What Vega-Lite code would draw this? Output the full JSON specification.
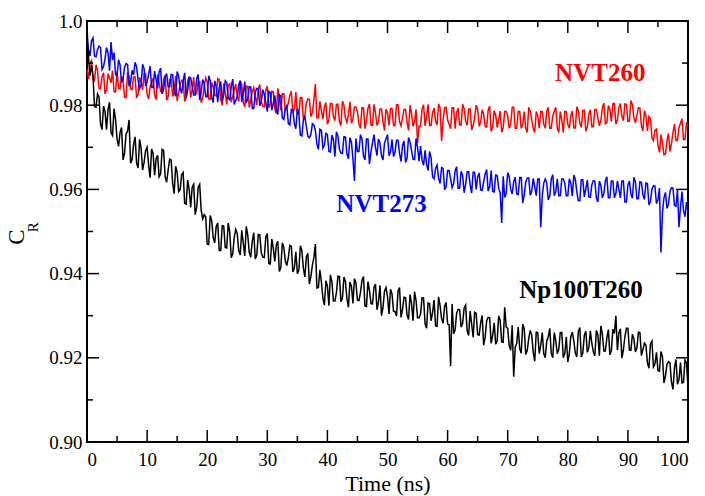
{
"$schema": "https://vega.github.io/schema/vega-lite/v6.json",
"width": 601, "height": 421,
"autosize": {"type": "none"},
"padding": {"left": 87, "top": 21, "right": 17, "bottom": 54},
"background": "white",
"config": {"font": "Liberation Serif", "view": {"stroke": "black", "strokeWidth": 2}, "axis": {"grid": false, "domain": false, "ticks": false, "labelFont": "Liberation Serif", "labelFontSize": 19, "labelColor": "black", "titleFont": "Liberation Serif", "titleColor": "black"}},
"datasets": {
"xmaj": [{"v":0},{"v":10},{"v":20},{"v":30},{"v":40},{"v":50},{"v":60},{"v":70},{"v":80},{"v":90},{"v":100}],
"xmin": [{"v":5},{"v":15},{"v":25},{"v":35},{"v":45},{"v":55},{"v":65},{"v":75},{"v":85},{"v":95}],
"ymaj": [{"v":0.9},{"v":0.92},{"v":0.94},{"v":0.96},{"v":0.98},{"v":1.0}],
"ymin": [{"v":0.91},{"v":0.93},{"v":0.95},{"v":0.97},{"v":0.99}],
"main": [
{"t":0,"r":0.9885,"b":0.9955,"k":0.9985},{"t":0.5,"r":0.9899,"b":0.9917,"k":0.987},{"t":1,"r":0.9863,"b":0.996,"k":0.987},{"t":1.5,"r":0.9896,"b":0.9915,"k":0.9795},{"t":2,"r":0.984,"b":0.994,"k":0.982},
{"t":2.5,"r":0.9868,"b":0.9885,"k":0.9742},{"t":3,"r":0.9827,"b":0.991,"k":0.9785},{"t":3.5,"r":0.9875,"b":0.9925,"k":0.979},{"t":4,"r":0.9853,"b":0.995,"k":0.9735},{"t":4.5,"r":0.9832,"b":0.9925,"k":0.9792},
{"t":5,"r":0.988,"b":0.987,"k":0.972},{"t":5.5,"r":0.9839,"b":0.9896,"k":0.9735},{"t":6,"r":0.9859,"b":0.9862,"k":0.967},{"t":6.5,"r":0.9818,"b":0.9899,"k":0.9732},{"t":7,"r":0.9868,"b":0.9845,"k":0.9765},
{"t":7.5,"r":0.9837,"b":0.9883,"k":0.967},{"t":8,"r":0.9867,"b":0.9902,"k":0.9725},{"t":8.5,"r":0.9826,"b":0.986,"k":0.9651},{"t":9,"r":0.9856,"b":0.9848,"k":0.9698},{"t":9.5,"r":0.9875,"b":0.9887,"k":0.9664},
{"t":10,"r":0.9825,"b":0.9855,"k":0.97},{"t":10.5,"r":0.9844,"b":0.9893,"k":0.9628},{"t":11,"r":0.9864,"b":0.9842,"k":0.9685},{"t":11.5,"r":0.9813,"b":0.986,"k":0.9673},{"t":12,"r":0.9853,"b":0.9879,"k":0.963},
{"t":12.5,"r":0.9832,"b":0.9827,"k":0.9695},{"t":13,"r":0.9872,"b":0.9866,"k":0.963},{"t":13.5,"r":0.9821,"b":0.9844,"k":0.9645},{"t":14,"r":0.9861,"b":0.9873,"k":0.967},{"t":14.5,"r":0.983,"b":0.9831,"k":0.959},
{"t":15,"r":0.981,"b":0.988,"k":0.964},{"t":15.5,"r":0.9849,"b":0.9839,"k":0.96},{"t":16,"r":0.9859,"b":0.9858,"k":0.964},{"t":16.5,"r":0.9818,"b":0.9817,"k":0.9565},{"t":17,"r":0.9868,"b":0.9866,"k":0.96},
{"t":17.5,"r":0.9837,"b":0.9845,"k":0.9605},{"t":18,"r":0.9827,"b":0.9824,"k":0.954},{"t":18.5,"r":0.9856,"b":0.9873,"k":0.9605},{"t":19,"r":0.9806,"b":0.9832,"k":0.955},{"t":19.5,"r":0.9845,"b":0.9851,"k":0.954},
{"t":20,"r":0.9855,"b":0.982,"k":0.947},{"t":20.5,"r":0.9814,"b":0.9858,"k":0.9538},{"t":21,"r":0.9843,"b":0.9806,"k":0.9485},{"t":21.5,"r":0.9822,"b":0.9844,"k":0.9512},{"t":22,"r":0.9861,"b":0.9842,"k":0.9455},
{"t":22.5,"r":0.98,"b":0.981,"k":0.9514},{"t":23,"r":0.9829,"b":0.9858,"k":0.9462},{"t":23.5,"r":0.9848,"b":0.9816,"k":0.952},{"t":24,"r":0.9807,"b":0.9844,"k":0.9438},{"t":24.5,"r":0.9836,"b":0.9802,"k":0.9486},
{"t":25,"r":0.982,"b":0.982,"k":0.9495},{"t":25.5,"r":0.9858,"b":0.9858,"k":0.9444},{"t":26,"r":0.9807,"b":0.9827,"k":0.9473},{"t":26.5,"r":0.9845,"b":0.9805,"k":0.9512},{"t":27,"r":0.9794,"b":0.9844,"k":0.945},
{"t":27.5,"r":0.9832,"b":0.9792,"k":0.9478},{"t":28,"r":0.9821,"b":0.9831,"k":0.9435},{"t":28.5,"r":0.9839,"b":0.9839,"k":0.9493},{"t":29,"r":0.9808,"b":0.9808,"k":0.945},{"t":29.5,"r":0.9796,"b":0.9826,"k":0.9438},
{"t":30,"r":0.9845,"b":0.9785,"k":0.9495},{"t":30.5,"r":0.9803,"b":0.983,"k":0.9423},{"t":31,"r":0.9832,"b":0.9805,"k":0.946},{"t":31.5,"r":0.978,"b":0.979,"k":0.9468},{"t":32,"r":0.9819,"b":0.9825,"k":0.9405},
{"t":32.5,"r":0.9827,"b":0.9769,"k":0.9473},{"t":33,"r":0.9786,"b":0.9793,"k":0.943},{"t":33.5,"r":0.9804,"b":0.9756,"k":0.9438},{"t":34,"r":0.9833,"b":0.979,"k":0.9465},{"t":34.5,"r":0.9791,"b":0.9756,"k":0.9413},
{"t":35,"r":0.978,"b":0.9792,"k":0.94},{"t":35.5,"r":0.9818,"b":0.9729,"k":0.9466},{"t":36,"r":0.9767,"b":0.9765,"k":0.9413},{"t":36.5,"r":0.9805,"b":0.9749,"k":0.944},{"t":37,"r":0.9814,"b":0.9723,"k":0.9375},
{"t":37.5,"r":0.9782,"b":0.9756,"k":0.942},{"t":38,"r":0.985,"b":0.974,"k":0.947},{"t":38.5,"r":0.977,"b":0.9695,"k":0.9367},{"t":39,"r":0.9788,"b":0.974,"k":0.938},{"t":39.5,"r":0.9796,"b":0.9705,"k":0.9325},
{"t":40,"r":0.9755,"b":0.973,"k":0.937},{"t":40.5,"r":0.9804,"b":0.9689,"k":0.9397},{"t":41,"r":0.9773,"b":0.9718,"k":0.9335},{"t":41.5,"r":0.9802,"b":0.9737,"k":0.9354},{"t":42,"r":0.9761,"b":0.9696,"k":0.9393},
{"t":42.5,"r":0.981,"b":0.9685,"k":0.9342},{"t":43,"r":0.9769,"b":0.9724,"k":0.9381},{"t":43.5,"r":0.9778,"b":0.9673,"k":0.932},{"t":44,"r":0.9757,"b":0.9712,"k":0.937},{"t":44.5,"r":0.9796,"b":0.962,"k":0.9388},
{"t":45,"r":0.9785,"b":0.969,"k":0.9337},{"t":45.5,"r":0.9745,"b":0.973,"k":0.9355},{"t":46,"r":0.9794,"b":0.968,"k":0.9393},{"t":46.5,"r":0.9764,"b":0.972,"k":0.9322},{"t":47,"r":0.9803,"b":0.966,"k":0.936},
{"t":47.5,"r":0.9752,"b":0.971,"k":0.9328},{"t":48,"r":0.9782,"b":0.97,"k":0.9375},{"t":48.5,"r":0.9762,"b":0.972,"k":0.9333},{"t":49,"r":0.9791,"b":0.968,"k":0.93},{"t":49.5,"r":0.974,"b":0.971,"k":0.9358},
{"t":50,"r":0.9782,"b":0.973,"k":0.9345},{"t":50.5,"r":0.9792,"b":0.9689,"k":0.9363},{"t":51,"r":0.9752,"b":0.9678,"k":0.9311},{"t":51.5,"r":0.9801,"b":0.9717,"k":0.9299},{"t":52,"r":0.9761,"b":0.9686,"k":0.9367},
{"t":52.5,"r":0.977,"b":0.9705,"k":0.9315},{"t":53,"r":0.979,"b":0.9664,"k":0.9343},{"t":53.5,"r":0.974,"b":0.9723,"k":0.9291},{"t":54,"r":0.978,"b":0.9692,"k":0.9329},{"t":54.5,"r":0.976,"b":0.9671,"k":0.9357},
{"t":55,"r":0.971,"b":0.97,"k":0.9295},{"t":55.5,"r":0.975,"b":0.9703,"k":0.9304},{"t":56,"r":0.9801,"b":0.9657,"k":0.9342},{"t":56.5,"r":0.9771,"b":0.966,"k":0.927},{"t":57,"r":0.9752,"b":0.969,"k":0.9329},
{"t":57.5,"r":0.9782,"b":0.963,"k":0.9308},{"t":58,"r":0.9763,"b":0.965,"k":0.9276},{"t":58.5,"r":0.9803,"b":0.9626,"k":0.9345},{"t":59,"r":0.9715,"b":0.9652,"k":0.9293},{"t":59.5,"r":0.9794,"b":0.9599,"k":0.9322},
{"t":60,"r":0.9765,"b":0.9645,"k":0.928},{"t":60.5,"r":0.9744,"b":0.9625,"k":0.918},{"t":61,"r":0.9794,"b":0.9614,"k":0.9257},{"t":61.5,"r":0.9783,"b":0.9654,"k":0.9306},{"t":62,"r":0.9753,"b":0.9603,"k":0.9314},
{"t":62.5,"r":0.9802,"b":0.9633,"k":0.9282},{"t":63,"r":0.9762,"b":0.9612,"k":0.9325},{"t":63.5,"r":0.9791,"b":0.9642,"k":0.9253},{"t":64,"r":0.9741,"b":0.9591,"k":0.928},{"t":64.5,"r":0.977,"b":0.9641,"k":0.9308},
{"t":65,"r":0.979,"b":0.963,"k":0.9255},{"t":65.5,"r":0.976,"b":0.9599,"k":0.9283},{"t":66,"r":0.9779,"b":0.9618,"k":0.923},{"t":66.5,"r":0.9748,"b":0.9647,"k":0.9288},{"t":67,"r":0.9798,"b":0.9606,"k":0.9295},
{"t":67.5,"r":0.9748,"b":0.9595,"k":0.9254},{"t":68,"r":0.9777,"b":0.9634,"k":0.9232},{"t":68.5,"r":0.9766,"b":0.9603,"k":0.93},{"t":69,"r":0.9736,"b":0.952,"k":0.9238},{"t":69.5,"r":0.9785,"b":0.9581,"k":0.932},
{"t":70,"r":0.9775,"b":0.964,"k":0.927},{"t":70.5,"r":0.9755,"b":0.96,"k":0.9218},{"t":71,"r":0.9795,"b":0.9619,"k":0.9155},{"t":71.5,"r":0.9745,"b":0.9589,"k":0.9234},{"t":72,"r":0.9785,"b":0.9628,"k":0.9222},
{"t":72.5,"r":0.9755,"b":0.9568,"k":0.928},{"t":73,"r":0.9745,"b":0.9617,"k":0.9208},{"t":73.5,"r":0.9795,"b":0.9627,"k":0.9246},{"t":74,"r":0.9765,"b":0.9596,"k":0.9254},{"t":74.5,"r":0.9735,"b":0.9606,"k":0.9192},
{"t":75,"r":0.9775,"b":0.9625,"k":0.926},{"t":75.5,"r":0.9785,"b":0.951,"k":0.923},{"t":76,"r":0.9755,"b":0.9615,"k":0.921},{"t":76.5,"r":0.9785,"b":0.9615,"k":0.924},{"t":77,"r":0.9745,"b":0.9585,"k":0.927},
{"t":77.5,"r":0.9775,"b":0.9635,"k":0.92},{"t":78,"r":0.9795,"b":0.9595,"k":0.924},{"t":78.5,"r":0.9735,"b":0.9585,"k":0.922},{"t":79,"r":0.9765,"b":0.9625,"k":0.926},{"t":79.5,"r":0.9785,"b":0.9615,"k":0.921},
{"t":80,"r":0.9755,"b":0.9585,"k":0.919},{"t":80.5,"r":0.9776,"b":0.9615,"k":0.925},{"t":81,"r":0.9746,"b":0.9634,"k":0.9241},{"t":81.5,"r":0.9796,"b":0.9594,"k":0.9202},{"t":82,"r":0.9757,"b":0.9573,"k":0.9272},
{"t":82.5,"r":0.9787,"b":0.9623,"k":0.9212},{"t":83,"r":0.9738,"b":0.9602,"k":0.9263},{"t":83.5,"r":0.9779,"b":0.9582,"k":0.9224},{"t":84,"r":0.9749,"b":0.9611,"k":0.9234},{"t":84.5,"r":0.979,"b":0.962,"k":0.9205},
{"t":85,"r":0.977,"b":0.957,"k":0.9255},{"t":85.5,"r":0.9763,"b":0.961,"k":0.9276},{"t":86,"r":0.9805,"b":0.959,"k":0.9216},{"t":86.5,"r":0.9758,"b":0.963,"k":0.9247},{"t":87,"r":0.979,"b":0.958,"k":0.9207},
{"t":87.5,"r":0.9803,"b":0.962,"k":0.9268},{"t":88,"r":0.9755,"b":0.959,"k":0.93},{"t":88.5,"r":0.9794,"b":0.96,"k":0.9259},{"t":89,"r":0.9773,"b":0.962,"k":0.9199},{"t":89.5,"r":0.9803,"b":0.957,"k":0.925},
{"t":90,"r":0.9762,"b":0.961,"k":0.927},{"t":90.5,"r":0.9811,"b":0.9589,"k":0.9218},{"t":91,"r":0.977,"b":0.9629,"k":0.9245},{"t":91.5,"r":0.9776,"b":0.9578,"k":0.9223},{"t":92,"r":0.9793,"b":0.9618,"k":0.926},
{"t":92.5,"r":0.9739,"b":0.9587,"k":0.922},{"t":93,"r":0.9775,"b":0.9615,"k":0.923},{"t":93.5,"r":0.9773,"b":0.9563,"k":0.9175},{"t":94,"r":0.9722,"b":0.96,"k":0.924},{"t":94.5,"r":0.974,"b":0.9608,"k":0.9185},
{"t":95,"r":0.9705,"b":0.9575,"k":0.917},{"t":95.5,"r":0.973,"b":0.945,"k":0.9215},{"t":96,"r":0.9682,"b":0.958,"k":0.914},{"t":96.5,"r":0.9715,"b":0.9555,"k":0.9184},{"t":97,"r":0.969,"b":0.9595,"k":0.9188},
{"t":97.5,"r":0.9735,"b":0.9603,"k":0.9125},{"t":98,"r":0.9716,"b":0.956,"k":0.9196},{"t":98.5,"r":0.9747,"b":0.951,"k":0.9148},{"t":99,"r":0.9768,"b":0.9595,"k":0.914},{"t":99.5,"r":0.9719,"b":0.9535,"k":0.9195},
{"t":100,"r":0.975,"b":0.9545,"k":0.913},
{"t":0.25,"r":0.9862,"b":0.9931,"k":0.9915},{"t":0.75,"r":0.9906,"b":0.9953,"k":0.9895},{"t":1.25,"r":0.9859,"b":0.9917,"k":0.9797},{"t":1.75,"r":0.9883,"b":0.9932,"k":0.9827},{"t":2.25,"r":0.9839,"b":0.9937,"k":0.9756},
{"t":2.75,"r":0.9877,"b":0.9892,"k":0.9798},{"t":3.25,"r":0.9836,"b":0.9937,"k":0.9742},{"t":3.75,"r":0.9864,"b":0.9882,"k":0.9807},{"t":4.25,"r":0.9882,"b":0.9907,"k":0.9728},{"t":4.75,"r":0.9831,"b":0.9872,"k":0.9766},
{"t":5.25,"r":0.984,"b":0.9908,"k":0.9702},{"t":5.75,"r":0.9869,"b":0.9854,"k":0.9747},{"t":6.25,"r":0.9819,"b":0.989,"k":0.9686},{"t":6.75,"r":0.9878,"b":0.9897,"k":0.9738},{"t":7.25,"r":0.9838,"b":0.9854,"k":0.9662},
{"t":7.75,"r":0.9867,"b":0.9872,"k":0.9707},{"t":8.25,"r":0.9817,"b":0.9891,"k":0.9663},{"t":8.75,"r":0.9866,"b":0.9839,"k":0.9719},{"t":9.25,"r":0.9836,"b":0.9897,"k":0.9646},{"t":9.75,"r":0.9875,"b":0.9846,"k":0.9692},
{"t":10.25,"r":0.9815,"b":0.9874,"k":0.9659},{"t":10.75,"r":0.9854,"b":0.9843,"k":0.9696},{"t":11.25,"r":0.9824,"b":0.9881,"k":0.9634},{"t":11.75,"r":0.9873,"b":0.984,"k":0.9681},{"t":12.25,"r":0.9833,"b":0.9888,"k":0.9637},
{"t":12.75,"r":0.9862,"b":0.9837,"k":0.9692},{"t":13.25,"r":0.9812,"b":0.9875,"k":0.9617},{"t":13.75,"r":0.9861,"b":0.9844,"k":0.9672},{"t":14.25,"r":0.9821,"b":0.9872,"k":0.9615},{"t":14.75,"r":0.987,"b":0.9821,"k":0.9655},
{"t":15.25,"r":0.983,"b":0.9869,"k":0.9595},{"t":15.75,"r":0.9859,"b":0.9828,"k":0.9635},{"t":16.25,"r":0.9809,"b":0.9877,"k":0.9567},{"t":16.75,"r":0.9858,"b":0.9836,"k":0.9622},{"t":17.25,"r":0.9818,"b":0.9865,"k":0.9557},
{"t":17.75,"r":0.9867,"b":0.9824,"k":0.9612},{"t":18.25,"r":0.9827,"b":0.9863,"k":0.9557},{"t":18.75,"r":0.9856,"b":0.9812,"k":0.9612},{"t":19.25,"r":0.9816,"b":0.9861,"k":0.953},{"t":19.75,"r":0.9865,"b":0.982,"k":0.9535},
{"t":20.25,"r":0.9815,"b":0.987,"k":0.9469},{"t":20.75,"r":0.9854,"b":0.9819,"k":0.9526},{"t":21.25,"r":0.9824,"b":0.9858,"k":0.9473},{"t":21.75,"r":0.9863,"b":0.9807,"k":0.952},{"t":22.25,"r":0.9813,"b":0.9856,"k":0.9455},
{"t":22.75,"r":0.9852,"b":0.9825,"k":0.9513},{"t":23.25,"r":0.9802,"b":0.9854,"k":0.9461},{"t":23.75,"r":0.9851,"b":0.9813,"k":0.9499},{"t":24.25,"r":0.9821,"b":0.9862,"k":0.9447},{"t":24.75,"r":0.985,"b":0.9811,"k":0.9505},
{"t":25.25,"r":0.9809,"b":0.9849,"k":0.9454},{"t":25.75,"r":0.9848,"b":0.9808,"k":0.9503},{"t":26.25,"r":0.9796,"b":0.9856,"k":0.9442},{"t":26.75,"r":0.9845,"b":0.9815,"k":0.9491},{"t":27.25,"r":0.9813,"b":0.9843,"k":0.9439},
{"t":27.75,"r":0.9842,"b":0.9792,"k":0.9497},{"t":28.25,"r":0.98,"b":0.984,"k":0.9444},{"t":28.75,"r":0.9849,"b":0.9799,"k":0.9492},{"t":29.25,"r":0.9797,"b":0.9837,"k":0.9439},{"t":29.75,"r":0.9836,"b":0.9806,"k":0.9487},
{"t":30.25,"r":0.9794,"b":0.9833,"k":0.9424},{"t":30.75,"r":0.9833,"b":0.9788,"k":0.9482},{"t":31.25,"r":0.9791,"b":0.9823,"k":0.9429},{"t":31.75,"r":0.984,"b":0.9778,"k":0.9477},{"t":32.25,"r":0.9788,"b":0.9822,"k":0.9414},
{"t":32.75,"r":0.9827,"b":0.9766,"k":0.9462},{"t":33.25,"r":0.9795,"b":0.9799,"k":0.9419},{"t":33.75,"r":0.9824,"b":0.9753,"k":0.9467},{"t":34.25,"r":0.9782,"b":0.9788,"k":0.9404},{"t":34.75,"r":0.9831,"b":0.9744,"k":0.9452},
{"t":35.25,"r":0.9779,"b":0.978,"k":0.9408},{"t":35.75,"r":0.9818,"b":0.9727,"k":0.9455},{"t":36.25,"r":0.9776,"b":0.9772,"k":0.9392},{"t":36.75,"r":0.9815,"b":0.9726,"k":0.9448},{"t":37.25,"r":0.9773,"b":0.973,"k":0.9393},
{"t":37.75,"r":0.9812,"b":0.9753,"k":0.9438},{"t":38.25,"r":0.977,"b":0.9708,"k":0.9366},{"t":38.75,"r":0.9809,"b":0.9743,"k":0.9409},{"t":39.25,"r":0.9767,"b":0.9698,"k":0.9342},{"t":39.75,"r":0.9806,"b":0.9733,"k":0.9383},
{"t":40.25,"r":0.9765,"b":0.969,"k":0.9324},{"t":40.75,"r":0.9804,"b":0.9729,"k":0.9381},{"t":41.25,"r":0.9763,"b":0.9678,"k":0.9335},{"t":41.75,"r":0.9802,"b":0.9727,"k":0.9394},{"t":42.25,"r":0.9751,"b":0.9686,"k":0.9333},
{"t":42.75,"r":0.98,"b":0.9725,"k":0.9392},{"t":43.25,"r":0.9759,"b":0.9684,"k":0.9341},{"t":43.75,"r":0.9808,"b":0.9723,"k":0.938},{"t":44.25,"r":0.9767,"b":0.9672,"k":0.9329},{"t":44.75,"r":0.9796,"b":0.9721,"k":0.9378},
{"t":45.25,"r":0.9755,"b":0.969,"k":0.9336},{"t":45.75,"r":0.9794,"b":0.972,"k":0.9384},{"t":46.25,"r":0.9744,"b":0.967,"k":0.9323},{"t":46.75,"r":0.9793,"b":0.972,"k":0.9381},{"t":47.25,"r":0.9753,"b":0.969,"k":0.9329},
{"t":47.75,"r":0.9802,"b":0.973,"k":0.9367},{"t":48.25,"r":0.9752,"b":0.968,"k":0.9314},{"t":48.75,"r":0.9791,"b":0.971,"k":0.9372},{"t":49.25,"r":0.9761,"b":0.967,"k":0.9319},{"t":49.75,"r":0.9791,"b":0.972,"k":0.9367},
{"t":50.25,"r":0.9752,"b":0.968,"k":0.9304},{"t":50.75,"r":0.9792,"b":0.9719,"k":0.9352},{"t":51.25,"r":0.9751,"b":0.9688,"k":0.931},{"t":51.75,"r":0.9801,"b":0.9717,"k":0.9358},{"t":52.25,"r":0.9751,"b":0.9666,"k":0.9296},
{"t":52.75,"r":0.979,"b":0.9715,"k":0.9344},{"t":53.25,"r":0.976,"b":0.9674,"k":0.9302},{"t":53.75,"r":0.98,"b":0.9713,"k":0.935},{"t":54.25,"r":0.975,"b":0.9672,"k":0.9288},{"t":54.75,"r":0.979,"b":0.9721,"k":0.9336},
{"t":55.25,"r":0.975,"b":0.9667,"k":0.9295},{"t":55.75,"r":0.9791,"b":0.967,"k":0.9343},{"t":56.25,"r":0.9751,"b":0.9693,"k":0.9281},{"t":56.75,"r":0.9802,"b":0.9645,"k":0.933},{"t":57.25,"r":0.9752,"b":0.9675,"k":0.9288},
{"t":57.75,"r":0.9793,"b":0.9625,"k":0.9337},{"t":58.25,"r":0.9753,"b":0.9658,"k":0.9275},{"t":58.75,"r":0.9794,"b":0.9614,"k":0.9324},{"t":59.25,"r":0.9764,"b":0.965,"k":0.9282},{"t":59.75,"r":0.9795,"b":0.9607,"k":0.9331},
{"t":60.25,"r":0.9755,"b":0.9645,"k":0.9279},{"t":60.75,"r":0.9794,"b":0.9604,"k":0.9328},{"t":61.25,"r":0.9744,"b":0.9644,"k":0.9266},{"t":61.75,"r":0.9793,"b":0.9603,"k":0.9315},{"t":62.25,"r":0.9753,"b":0.9643,"k":0.9273},
{"t":62.75,"r":0.9792,"b":0.9592,"k":0.9318},{"t":63.25,"r":0.9752,"b":0.9642,"k":0.9264},{"t":63.75,"r":0.9791,"b":0.9611,"k":0.9311},{"t":64.25,"r":0.9751,"b":0.9641,"k":0.9249},{"t":64.75,"r":0.98,"b":0.96,"k":0.9306},
{"t":65.25,"r":0.975,"b":0.9639,"k":0.9254},{"t":65.75,"r":0.9789,"b":0.9598,"k":0.9301},{"t":66.25,"r":0.9749,"b":0.9637,"k":0.9249},{"t":66.75,"r":0.9788,"b":0.9596,"k":0.9296},{"t":67.25,"r":0.9738,"b":0.9645,"k":0.9234},
{"t":67.75,"r":0.9787,"b":0.9594,"k":0.9283},{"t":68.25,"r":0.9747,"b":0.9633,"k":0.9241},{"t":68.75,"r":0.9786,"b":0.9592,"k":0.9289},{"t":69.25,"r":0.9746,"b":0.9631,"k":0.9237},{"t":69.75,"r":0.9785,"b":0.959,"k":0.9273},
{"t":70.25,"r":0.9745,"b":0.963,"k":0.9229},{"t":70.75,"r":0.9795,"b":0.9589,"k":0.9277},{"t":71.25,"r":0.9745,"b":0.9629,"k":0.9225},{"t":71.75,"r":0.9785,"b":0.9588,"k":0.9273},{"t":72.25,"r":0.9745,"b":0.9628,"k":0.9211},
{"t":72.75,"r":0.9785,"b":0.9587,"k":0.9269},{"t":73.25,"r":0.9735,"b":0.9627,"k":0.9217},{"t":73.75,"r":0.9785,"b":0.9586,"k":0.9265},{"t":74.25,"r":0.9745,"b":0.9626,"k":0.9213},{"t":74.75,"r":0.9785,"b":0.9585,"k":0.9261},
{"t":75.25,"r":0.9745,"b":0.9625,"k":0.921},{"t":75.75,"r":0.9785,"b":0.9585,"k":0.926},{"t":76.25,"r":0.9745,"b":0.9625,"k":0.92},{"t":76.75,"r":0.9795,"b":0.9575,"k":0.925},{"t":77.25,"r":0.9745,"b":0.9625,"k":0.921},
{"t":77.75,"r":0.9785,"b":0.9585,"k":0.926},{"t":78.25,"r":0.9745,"b":0.9625,"k":0.921},{"t":78.75,"r":0.9785,"b":0.9585,"k":0.926},{"t":79.25,"r":0.9735,"b":0.9625,"k":0.92},{"t":79.75,"r":0.9785,"b":0.9585,"k":0.925},
{"t":80.25,"r":0.9745,"b":0.9625,"k":0.921},{"t":80.75,"r":0.9786,"b":0.9584,"k":0.9261},{"t":81.25,"r":0.9746,"b":0.9624,"k":0.9211},{"t":81.75,"r":0.9787,"b":0.9573,"k":0.9262},{"t":82.25,"r":0.9747,"b":0.9623,"k":0.9202},
{"t":82.75,"r":0.9788,"b":0.9582,"k":0.9253},{"t":83.25,"r":0.9748,"b":0.9622,"k":0.9213},{"t":83.75,"r":0.9789,"b":0.9581,"k":0.9264},{"t":84.25,"r":0.9749,"b":0.9621,"k":0.9214},{"t":84.75,"r":0.979,"b":0.958,"k":0.9265},
{"t":85.25,"r":0.9751,"b":0.962,"k":0.9205},{"t":85.75,"r":0.9794,"b":0.958,"k":0.9256},{"t":86.25,"r":0.9756,"b":0.962,"k":0.9216},{"t":86.75,"r":0.9799,"b":0.958,"k":0.9267},{"t":87.25,"r":0.9761,"b":0.962,"k":0.9217},
{"t":87.75,"r":0.9804,"b":0.958,"k":0.9258},{"t":88.25,"r":0.9765,"b":0.962,"k":0.9218},{"t":88.75,"r":0.9804,"b":0.958,"k":0.9269},{"t":89.25,"r":0.9763,"b":0.962,"k":0.9219},{"t":89.75,"r":0.9802,"b":0.957,"k":0.927},
{"t":90.25,"r":0.9762,"b":0.962,"k":0.9219},{"t":90.75,"r":0.9801,"b":0.9579,"k":0.9256},{"t":91.25,"r":0.9758,"b":0.9618,"k":0.9214},{"t":91.75,"r":0.9794,"b":0.9578,"k":0.9261},{"t":92.25,"r":0.9751,"b":0.9617,"k":0.9205},
{"t":92.75,"r":0.9787,"b":0.9576,"k":0.9235},{"t":93.25,"r":0.9739,"b":0.9614,"k":0.9188},{"t":93.75,"r":0.9768,"b":0.9571,"k":0.9233},{"t":94.25,"r":0.9716,"b":0.9609,"k":0.9178},{"t":94.75,"r":0.9743,"b":0.9566,"k":0.9213},
{"t":95.25,"r":0.9688,"b":0.9603,"k":0.9168},{"t":95.75,"r":0.9711,"b":0.9545,"k":0.9203},{"t":96.25,"r":0.9684,"b":0.9593,"k":0.9157},{"t":96.75,"r":0.9733,"b":0.9565,"k":0.9191},{"t":97.25,"r":0.9708,"b":0.9604,"k":0.9142},
{"t":97.75,"r":0.9755,"b":0.9562,"k":0.9176},{"t":98.25,"r":0.9716,"b":0.9599,"k":0.9137},{"t":98.75,"r":0.9757,"b":0.9557,"k":0.9189},{"t":99.25,"r":0.9718,"b":0.955,"k":0.9142},{"t":99.75,"r":0.9759,"b":0.957,"k":0.9188}
]},
"data": {"name": "main"},
"layer": [
{"mark": {"type": "line", "color": "#ff0000", "strokeWidth": 1.5},
 "encoding": {
  "x": {"field": "t", "type": "quantitative", "scale": {"domain": [0, 100], "nice": false, "zero": false},
        "axis": {"orient": "bottom", "values": [0,10,20,30,40,50,60,70,80,90,100], "labelPadding": 8, "labelFont": "Liberation Serif", "labelFontSize": 19, "title": "Time (ns)", "titleFont": "Liberation Serif", "titleFontSize": 22, "titleFontWeight": "normal", "titlePadding": 4}},
  "y": {"field": "r", "type": "quantitative", "scale": {"domain": [0.9, 1.0], "nice": false, "zero": false},
        "axis": {"orient": "left", "values": [0.9,0.92,0.94,0.96,0.98,1.0], "labelPadding": 5, "labelFont": "Liberation Serif", "labelFontSize": 19, "labelExpr": "datum.value >= 0.999 ? '1.0' : format(datum.value, '.2f')", "title": null}}
 }},
{"mark": {"type": "line", "color": "#0000ff", "strokeWidth": 1.5},
 "encoding": {"x": {"field": "t", "type": "quantitative"}, "y": {"field": "b", "type": "quantitative"}}},
{"mark": {"type": "line", "color": "#000000", "strokeWidth": 1.5},
 "encoding": {"x": {"field": "t", "type": "quantitative"}, "y": {"field": "k", "type": "quantitative"}}},
{"data": {"name": "xmaj"}, "mark": {"type": "tick", "orient": "vertical", "color": "black", "size": 12, "thickness": 1.5, "opacity": 1},
 "encoding": {"x": {"field": "v", "type": "quantitative"}, "y": {"datum": 0.901425, "type": "quantitative"}}},
{"data": {"name": "xmin"}, "mark": {"type": "tick", "orient": "vertical", "color": "black", "size": 6, "thickness": 1.5, "opacity": 1},
 "encoding": {"x": {"field": "v", "type": "quantitative"}, "y": {"datum": 0.900713, "type": "quantitative"}}},
{"data": {"name": "xmaj"}, "mark": {"type": "tick", "orient": "vertical", "color": "black", "size": 12, "thickness": 1.5, "opacity": 1},
 "encoding": {"x": {"field": "v", "type": "quantitative"}, "y": {"datum": 0.998575, "type": "quantitative"}}},
{"data": {"name": "xmin"}, "mark": {"type": "tick", "orient": "vertical", "color": "black", "size": 6, "thickness": 1.5, "opacity": 1},
 "encoding": {"x": {"field": "v", "type": "quantitative"}, "y": {"datum": 0.999287, "type": "quantitative"}}},
{"data": {"name": "ymaj"}, "mark": {"type": "tick", "orient": "horizontal", "color": "black", "size": 12, "thickness": 1.5, "opacity": 1},
 "encoding": {"y": {"field": "v", "type": "quantitative"}, "x": {"datum": 1.0, "type": "quantitative"}}},
{"data": {"name": "ymin"}, "mark": {"type": "tick", "orient": "horizontal", "color": "black", "size": 6, "thickness": 1.5, "opacity": 1},
 "encoding": {"y": {"field": "v", "type": "quantitative"}, "x": {"datum": 0.5, "type": "quantitative"}}},
{"data": {"name": "ymaj"}, "mark": {"type": "tick", "orient": "horizontal", "color": "black", "size": 12, "thickness": 1.5, "opacity": 1},
 "encoding": {"y": {"field": "v", "type": "quantitative"}, "x": {"datum": 99.0, "type": "quantitative"}}},
{"data": {"name": "ymin"}, "mark": {"type": "tick", "orient": "horizontal", "color": "black", "size": 6, "thickness": 1.5, "opacity": 1},
 "encoding": {"y": {"field": "v", "type": "quantitative"}, "x": {"datum": 99.5, "type": "quantitative"}}},
{"data": {"values": [{"label": "NVT260"}]},
 "mark": {"type": "text", "color": "#ff0000", "font": "Liberation Serif", "fontWeight": "bold", "fontSize": 25, "align": "center", "baseline": "alphabetic"},
 "encoding": {"text": {"field": "label"}, "x": {"datum": 85.4, "type": "quantitative"}, "y": {"datum": 0.9858, "type": "quantitative"}}},
{"data": {"values": [{"label": "NVT273"}]},
 "mark": {"type": "text", "color": "#0000ff", "font": "Liberation Serif", "fontWeight": "bold", "fontSize": 25, "align": "center", "baseline": "alphabetic"},
 "encoding": {"text": {"field": "label"}, "x": {"datum": 49.0, "type": "quantitative"}, "y": {"datum": 0.9546, "type": "quantitative"}}},
{"data": {"values": [{"label": "Np100T260"}]},
 "mark": {"type": "text", "color": "#000000", "font": "Liberation Serif", "fontWeight": "bold", "fontSize": 25, "align": "center", "baseline": "alphabetic"},
 "encoding": {"text": {"field": "label"}, "x": {"datum": 82.2, "type": "quantitative"}, "y": {"datum": 0.9342, "type": "quantitative"}}},
{"data": {"values": [{"label": "C"}]},
 "mark": {"type": "text", "color": "#000000", "font": "Liberation Serif", "fontSize": 23, "align": "center", "baseline": "middle", "angle": 270},
 "encoding": {"text": {"field": "label"}, "x": {"datum": -11.65, "type": "quantitative"}, "y": {"datum": 0.9487, "type": "quantitative"}}},
{"data": {"values": [{"label": "R"}]},
 "mark": {"type": "text", "color": "#000000", "font": "Liberation Serif", "fontSize": 15, "align": "center", "baseline": "middle", "angle": 270},
 "encoding": {"text": {"field": "label"}, "x": {"datum": -8.99, "type": "quantitative"}, "y": {"datum": 0.951, "type": "quantitative"}}}
]
}
